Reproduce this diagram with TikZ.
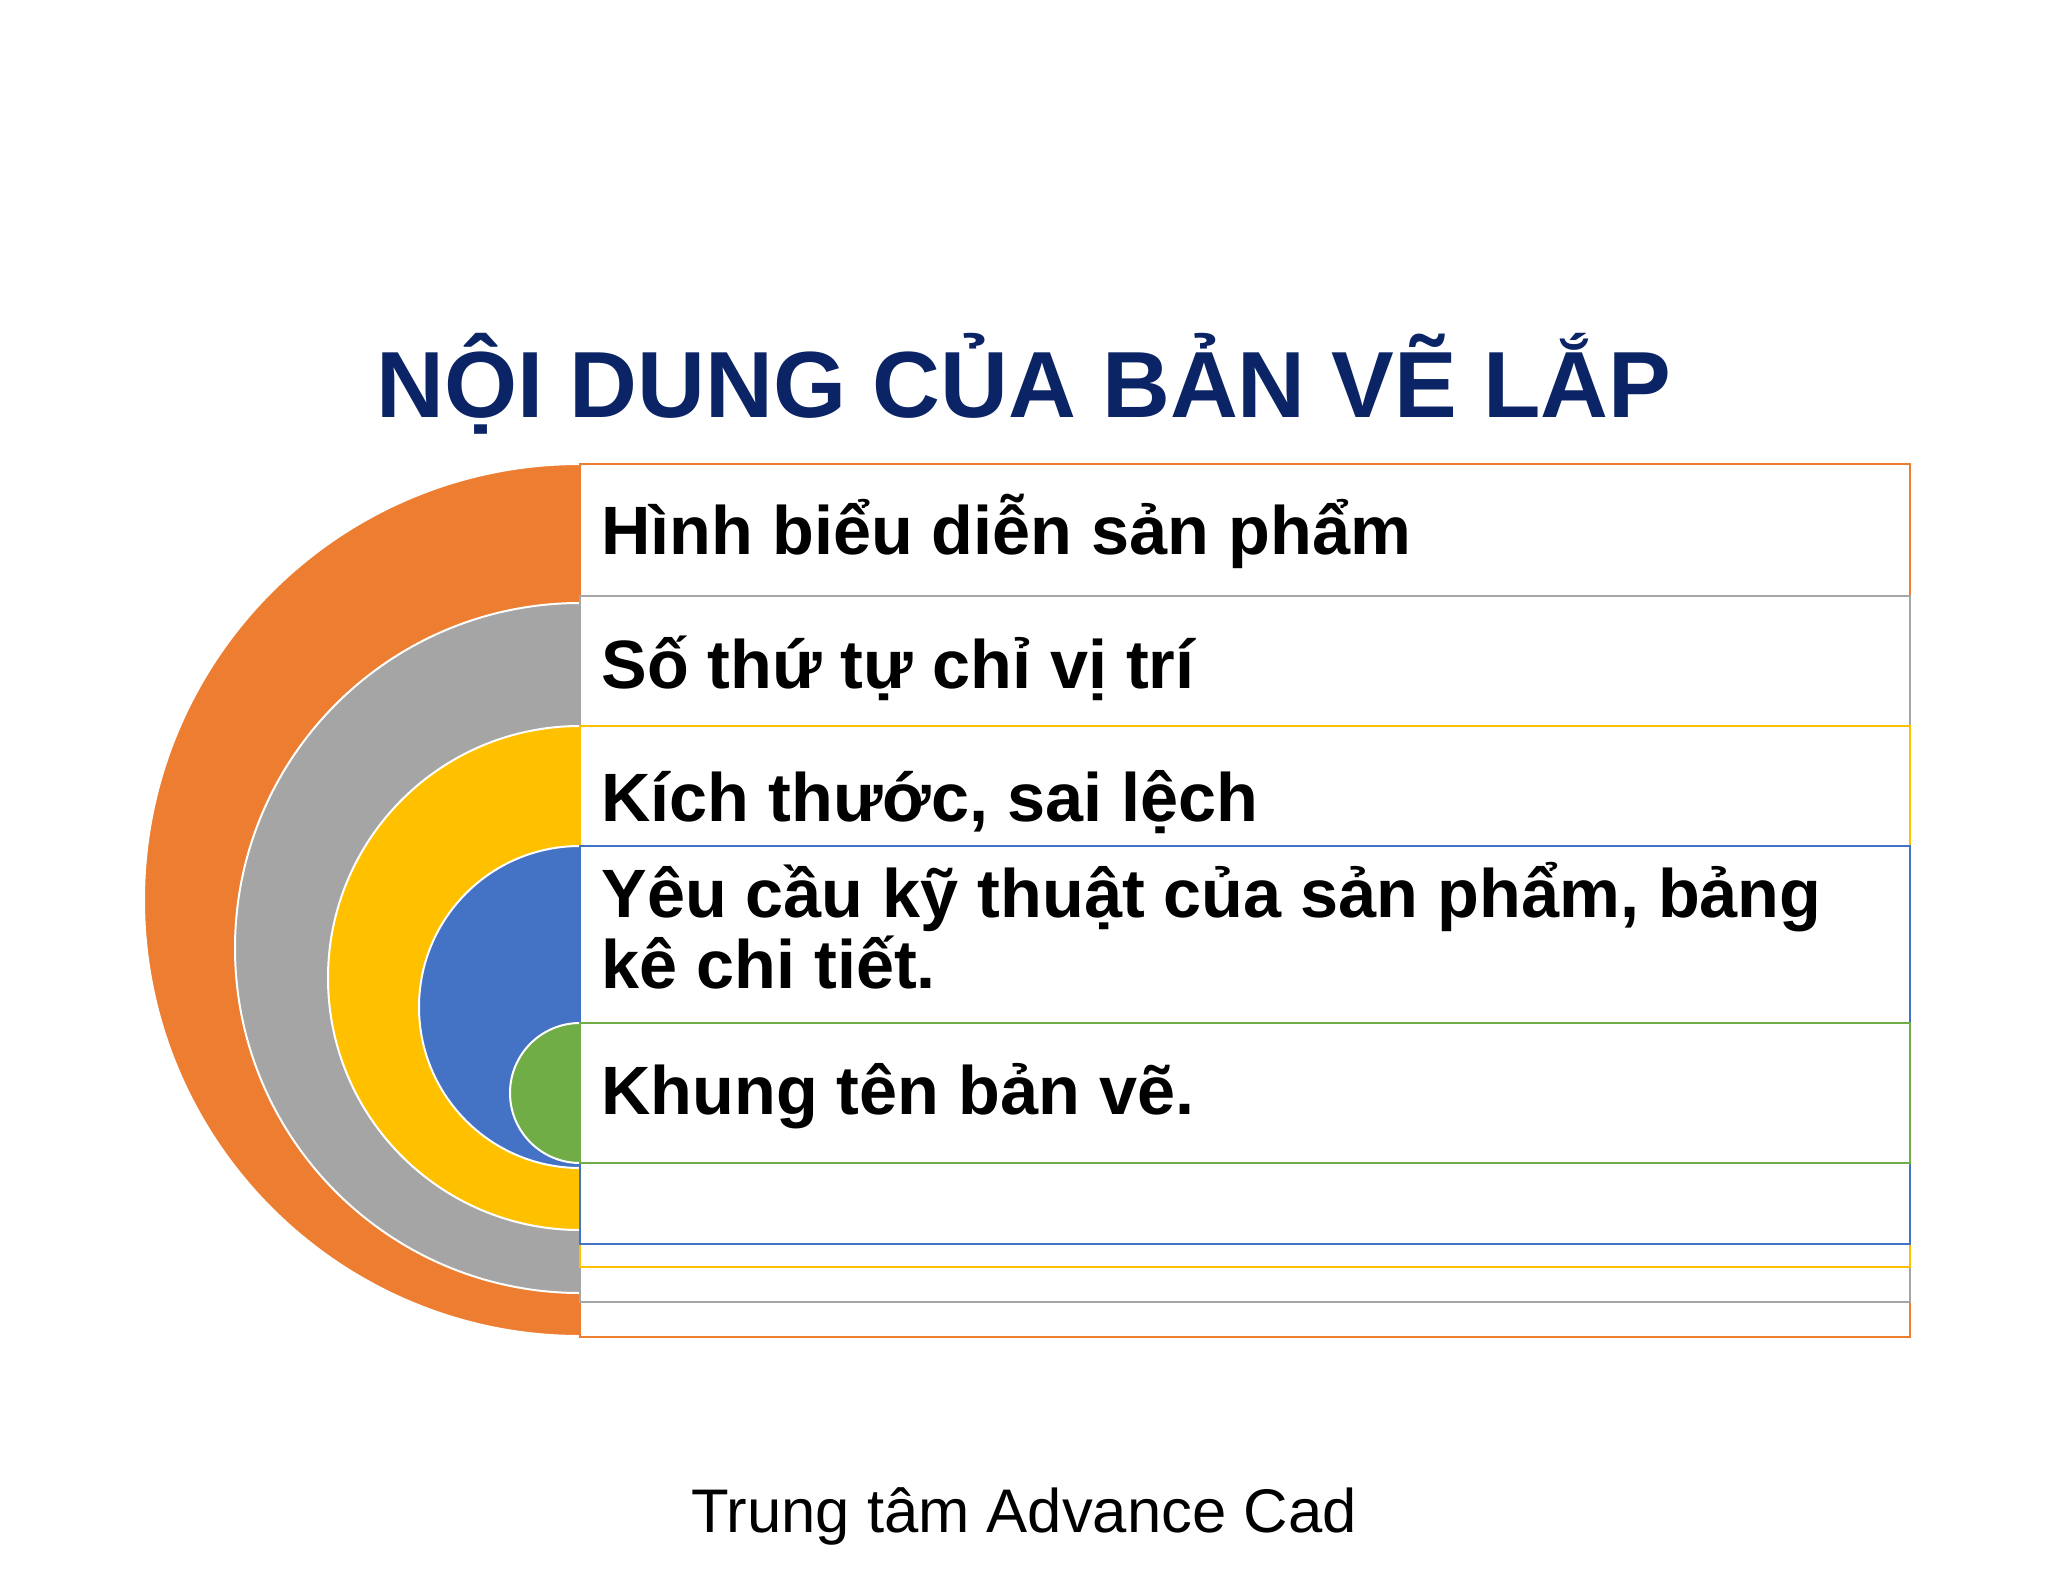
\documentclass[tikz,border=0pt]{standalone}
\usepackage{fontspec}
\setmainfont{Liberation Sans}
\definecolor{ringorange}{HTML}{ED7D31}
\definecolor{ringgray}{HTML}{A5A5A5}
\definecolor{ringyellow}{HTML}{FFC000}
\definecolor{ringblue}{HTML}{4472C4}
\definecolor{ringgreen}{HTML}{70AD47}
\definecolor{titleblue}{HTML}{0B2466}
\tikzset{
  ring/.style={draw=white,line width=1pt},
  band/.style={fill=white,line width=1pt},
  itemtext/.style={anchor=base west,inner sep=0pt,align=left,font=\bfseries\fontsize{34.2}{35.5}\selectfont},
}

\begin{document}
\begin{tikzpicture}[x=0.5pt,y=0.5pt]
  \useasboundingbox[fill=white] (0,0) rectangle (2048,-1582);
  \node[anchor=base,inner sep=0pt,text=titleblue,font=\bfseries\fontsize{47}{50}\selectfont] (title) at (1024,-418) {NỘI DUNG CỦA BẢN VẼ LẮP};
  % half discs, outer to inner
  \foreach \c/\cy/\r in {ringorange/900/436,ringgray/948/345,ringyellow/978/252,ringblue/1007/161,ringgreen/1093/70}
    \filldraw[ring,fill=\c] (580,-\cy+\r) arc[start angle=90,end angle=270,radius=\r] -- cycle;
  % text bands
  \foreach \c/\t/\b in {ringorange/464/1337,ringgray/596/1302,ringyellow/726/1267,ringblue/846/1244,ringgreen/1023/1163}
    \filldraw[band,draw=\c] (580,-\t) rectangle (1910,-\b);
  \node[itemtext] (hinh) at (601,-555) {Hình biểu diễn sản phẩm};
  \node[itemtext] (sothutu) at (601,-688) {Số thứ tự chỉ vị trí};
  \node[itemtext] (kichthuoc) at (601,-821) {Kích thước, sai lệch};
  \node[itemtext] (yeucau) at (601,-988) {Yêu cầu kỹ thuật của sản phẩm, bảng\\kê chi tiết.};
  \node[itemtext] (khung) at (601,-1114) {Khung tên bản vẽ.};
  \node[anchor=base,inner sep=0pt,font=\fontsize{30.8}{33}\selectfont] (footer) at (1024,-1532) {Trung tâm Advance Cad};
\end{tikzpicture}
\end{document}
